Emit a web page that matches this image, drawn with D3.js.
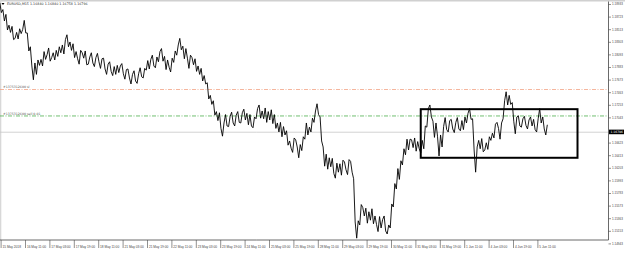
<!DOCTYPE html>
<html lang="en">
<head>
<meta charset="UTF-8">
<title>EURUSD,M15</title>
<script src="https://cdnjs.cloudflare.com/ajax/libs/d3/7.8.5/d3.min.js"></script>
<style>
  html, body { margin:0; padding:0; background:#fff; }
  svg { display:block; font-family: Tahoma, "DejaVu Sans", sans-serif; }
</style>
</head>
<body>
<svg id="chart" width="625" height="253"></svg>
<script>
// header of the chart window
const symbol = "EURUSD,M15";
const ohlc = [1.16840, 1.16840, 1.16758, 1.16796];

// bottom labels, one every 16 trading hours
const timeLabels = ["15 May 2018","16 May 11:00","17 May 03:00","17 May 19:00","18 May 11:00",
  "21 May 03:00","21 May 19:00","22 May 11:00","23 May 03:00","23 May 19:00","24 May 11:00",
  "25 May 03:00","25 May 19:00","28 May 11:00","29 May 03:00","29 May 19:00","30 May 11:00",
  "31 May 03:00","31 May 19:00","1 Jun 11:00","4 Jun 03:00","4 Jun 19:00","5 Jun 11:00"];
const labelEvery = 16;

// right price scale
const priceTicks = [1.18933,1.18723,1.18513,1.18303,1.18093,1.17883,1.17673,1.17463,1.17253,1.17043,
  1.16833,1.16623,1.16413,1.16203,1.15993,1.15783,1.15573,1.15363,1.15153,1.14943];

// price path, one high/low pair every 2 trading hours
const barStep = 2;
const hi = [1.1895,1.1884,1.1876,1.1858,1.1856,1.1846,1.1852,1.1851,1.1866,1.1845,
  1.1822,1.1795,1.1800,1.1801,1.1814,1.1809,1.1820,1.1812,1.1816,1.1822,
  1.1825,1.1834,1.1842,1.1830,1.1827,1.1814,1.1816,1.1812,1.1815,1.1805,
  1.1812,1.1804,1.1811,1.1802,1.1803,1.1793,1.1797,1.1789,1.1791,1.1790,
  1.1794,1.1784,1.1785,1.1776,1.1782,1.1777,1.1787,1.1786,1.1799,1.1801,
  1.1808,1.1805,1.1814,1.1819,1.1806,1.1800,1.1803,1.1815,1.1825,1.1836,
  1.1823,1.1819,1.1808,1.1804,1.1802,1.1790,1.1786,1.1774,1.1762,1.1741,
  1.1732,1.1714,1.1712,1.1695,1.1709,1.1706,1.1713,1.1708,1.1714,1.1712,
  1.1718,1.1711,1.1709,1.1705,1.1719,1.1725,1.1715,1.1720,1.1714,1.1717,
  1.1709,1.1695,1.1696,1.1689,1.1682,1.1665,1.1670,1.1667,1.1659,1.1672,
  1.1695,1.1688,1.1703,1.1715,1.1727,1.1705,1.1655,1.1643,1.1637,1.1636,
  1.1628,1.1627,1.1633,1.1630,1.1634,1.1631,1.1602,1.1532,1.1559,1.1554,
  1.1553,1.1547,1.1552,1.1540,1.1539,1.1534,1.1540,1.1525,1.1560,1.1594,
  1.1619,1.1632,1.1652,1.1668,1.1668,1.1667,1.1670,1.1664,1.1666,1.1690,
  1.1719,1.1725,1.1698,1.1695,1.1675,1.1689,1.1704,1.1699,1.1701,1.1696,
  1.1704,1.1699,1.1705,1.1711,1.1719,1.1702,1.1655,1.1666,1.1669,1.1662,
  1.1672,1.1678,1.1693,1.1696,1.1695,1.1732,1.1747,1.1741,1.1729,1.1705,
  1.1707,1.1702,1.1706,1.1700,1.1705,1.1701,1.1702,1.1719,1.1705,1.1692];
const lo = [1.1879,1.1865,1.1850,1.1846,1.1834,1.1836,1.1835,1.1844,1.1845,1.1815,
  1.1790,1.1767,1.1776,1.1791,1.1790,1.1801,1.1798,1.1804,1.1800,1.1806,
  1.1812,1.1810,1.1822,1.1816,1.1804,1.1802,1.1793,1.1803,1.1792,1.1793,
  1.1795,1.1789,1.1797,1.1786,1.1785,1.1776,1.1781,1.1774,1.1776,1.1779,
  1.1777,1.1768,1.1770,1.1760,1.1765,1.1761,1.1772,1.1770,1.1783,1.1785,
  1.1790,1.1787,1.1797,1.1798,1.1784,1.1788,1.1780,1.1796,1.1808,1.1817,
  1.1802,1.1803,1.1786,1.1792,1.1781,1.1776,1.1765,1.1760,1.1735,1.1726,
  1.1708,1.1699,1.1686,1.1673,1.1690,1.1689,1.1695,1.1690,1.1696,1.1695,
  1.1700,1.1692,1.1690,1.1687,1.1702,1.1703,1.1702,1.1696,1.1700,1.1694,
  1.1686,1.1680,1.1672,1.1675,1.1658,1.1653,1.1646,1.1655,1.1637,1.1649,
  1.1668,1.1675,1.1680,1.1696,1.1709,1.1665,1.1623,1.1618,1.1622,1.1611,
  1.1603,1.1613,1.1608,1.1617,1.1609,1.1613,1.1530,1.1503,1.1525,1.1540,
  1.1528,1.1533,1.1527,1.1526,1.1514,1.1520,1.1515,1.1510,1.1520,1.1555,
  1.1585,1.1601,1.1625,1.1642,1.1650,1.1654,1.1648,1.1652,1.1645,1.1652,
  1.1688,1.1705,1.1671,1.1673,1.1640,1.1655,1.1684,1.1680,1.1685,1.1679,
  1.1685,1.1682,1.1684,1.1695,1.1701,1.1650,1.1613,1.1652,1.1647,1.1650,
  1.1651,1.1666,1.1670,1.1686,1.1668,1.1702,1.1725,1.1726,1.1698,1.1677,
  1.1690,1.1688,1.1691,1.1685,1.1690,1.1684,1.1680,1.1695,1.1685,1.1675];

// order lines and the drawn box
const ticket = "#1375312600";
const stopLoss = 1.17508, openPrice = 1.17067, bid = 1.16796;
const boxTime = [275.5, 378.3], boxPrice = [1.1637, 1.1718];

const svg = d3.select("#chart");
const W = 625, H = 253, right = 608.5, bottom = 240;

const x = d3.scaleLinear().domain([0, 352]).range([0.6, 0.6 + 352 * 1.525]);
const y = d3.scaleLinear().domain([1.14943, 1.18933]).range([243.4, 4]);

svg.append("rect").attr("width", W).attr("height", H).attr("fill", "#fff");
// window edges
svg.append("rect").attr("x", 0).attr("y", 0).attr("width", W).attr("height", 1.5).attr("fill", "#d0d0d0");
svg.append("rect").attr("x", 0).attr("y", 0).attr("width", 1.3).attr("height", bottom).attr("fill", "#d8d8d8");

// bid line
svg.append("line").attr("x1", 0).attr("x2", right).attr("y1", y(bid)).attr("y2", y(bid))
  .attr("stroke", "#c8c8c8").attr("stroke-width", 0.8);

// stop loss and open price lines
[[stopLoss, "#f2a385", ticket + " sl"], [openPrice, "#4cb04c", ticket + " sell 0.01"]].forEach(d => {
  svg.append("line").attr("x1", 0).attr("x2", right).attr("y1", y(d[0])).attr("y2", y(d[0]))
    .attr("stroke", d[1]).attr("stroke-width", 0.8).attr("stroke-dasharray", "4,1.5,1,1.5");
  svg.append("text").attr("x", 3).attr("y", y(d[0]) - 1.3).attr("font-size", 3.2)
    .attr("fill", "#555").text(d[2]);
});

// price path: zigzag through each bar's high and low
const pts = [];
hi.forEach((h, i) => {
  const t = i * barStep;
  const down = i < hi.length - 1 && (hi[i + 1] + lo[i + 1]) < (h + lo[i]);
  const a = down ? h : lo[i], b = down ? lo[i] : h;
  pts.push([x(t - 0.5), y(a)], [x(t + 0.5), y(b)]);
});
svg.append("path").attr("d", d3.line()(pts)).attr("fill", "none")
  .attr("stroke", "#000").attr("stroke-width", 0.9);

// drawn rectangle
svg.append("rect").attr("x", x(boxTime[0])).attr("y", y(boxPrice[1]))
  .attr("width", x(boxTime[1]) - x(boxTime[0])).attr("height", y(boxPrice[0]) - y(boxPrice[1]))
  .attr("fill", "none").attr("stroke", "#000").attr("stroke-width", 2);

// frame
svg.append("line").attr("x1", right).attr("x2", right).attr("y1", 1.5).attr("y2", bottom)
  .attr("stroke", "#444").attr("stroke-width", 0.8);
svg.append("line").attr("x1", 0).attr("x2", right).attr("y1", bottom).attr("y2", bottom)
  .attr("stroke", "#444").attr("stroke-width", 0.8);

// right axis (the label under the price tag is hidden, as the terminal does)
const shownTicks = priceTicks.filter(p => Math.abs(y(p) - y(bid)) > 4);
const ya = svg.append("g").attr("transform", `translate(${right},0)`)
  .call(d3.axisRight(y).tickValues(shownTicks).tickSize(2.5).tickPadding(1).tickFormat(d3.format(".5f")));
ya.select(".domain").remove();
ya.selectAll("line").attr("stroke", "#444").attr("stroke-width", 0.6);
ya.selectAll("text").attr("font-size", 3).attr("fill", "#444").attr("font-family", null);

// bottom axis
const xa = svg.append("g").attr("transform", `translate(0,${bottom})`)
  .call(d3.axisBottom(x).tickValues(timeLabels.map((d, i) => i * labelEvery)).tickSize(8)
    .tickFormat((d, i) => timeLabels[i]));
xa.select(".domain").remove();
xa.selectAll("line").attr("stroke", "#444").attr("stroke-width", 0.6);
xa.selectAll("text").attr("font-size", 3.2).attr("fill", "#444").attr("font-family", null)
  .attr("text-anchor", "start").attr("x", 1.4).attr("y", 5.5).attr("dy", "0.71em");

// current price tag
svg.append("rect").attr("x", right + 0.5).attr("y", y(bid) - 2.6).attr("width", 15).attr("height", 4.6).attr("fill", "#000");
svg.append("text").attr("x", right + 2).attr("y", y(bid) + 1.1).attr("font-size", 3).attr("fill", "#fff")
  .text(d3.format(".5f")(bid));

// header
svg.append("path").attr("d", "M1.5,3 L4.5,3 L3,5 Z").attr("fill", "#000");
svg.append("text").attr("x", 7).attr("y", 5.4).attr("font-size", 3.3).attr("fill", "#333")
  .text(symbol + "  " + ohlc.map(d3.format(".5f")).join(" "));
</script>
</body>
</html>
